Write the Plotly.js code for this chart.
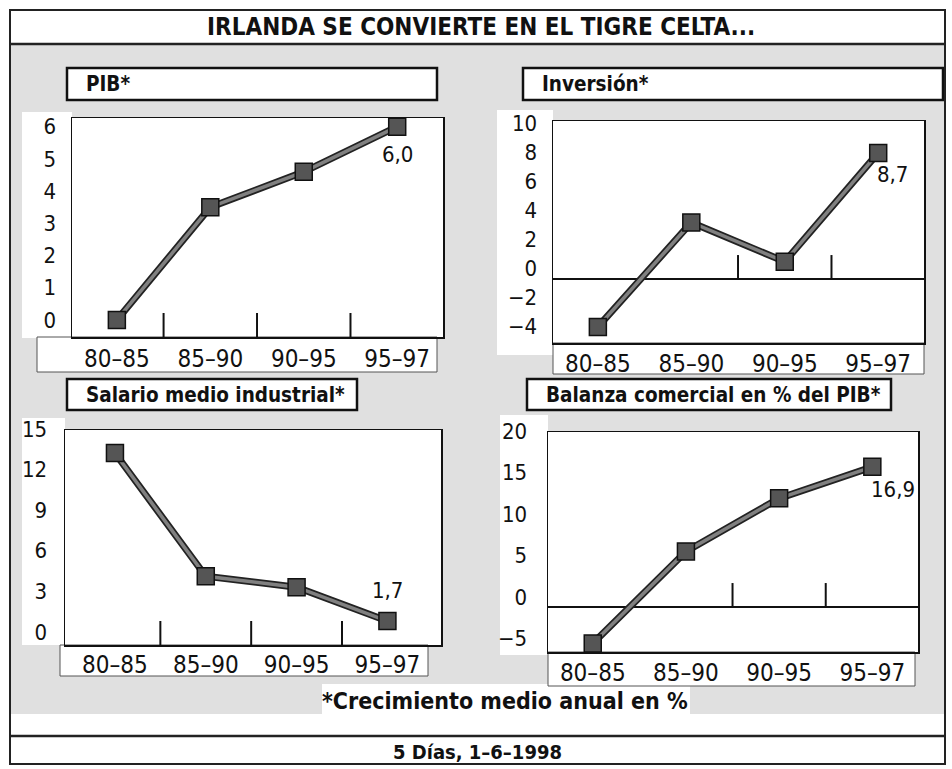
<!DOCTYPE html>
<html><head><meta charset="utf-8">
<script src="https://cdn.plot.ly/plotly-3.0.1.min.js"></script>
<style>html,body{margin:0;padding:0;background:#fff}#chart{width:952px;height:769px}</style>
</head><body><div id="chart"></div>
<script>
// ---- data ----
const periods = ['80–85', '85–90', '90–95', '95–97'];
const pib = [0.0, 3.5, 4.6, 6.0];
const inversion = [-3.3, 3.9, 1.2, 8.7];
const salario = [14.1, 5.0, 4.2, 1.7];
const balanza = [-4.4, 6.7, 13.1, 16.9];
const pibTicks = [0, 1, 2, 3, 4, 5, 6];
const invTicks = [-4, -2, 0, 2, 4, 6, 8, 10];
const salTicks = [0, 3, 6, 9, 12, 15];
const balTicks = [-5, 0, 5, 10, 15, 20];
const panelTitles = ['PIB*', 'Inversión*', 'Salario medio industrial*', 'Balanza comercial en % del PIB*'];
const lastLabels = ['6,0', '8,7', '1,7', '16,9'];
const mainTitle = 'IRLANDA SE CONVIERTE EN EL TIGRE CELTA...';
const noteText = '*Crecimiento medio anual en %';
const sourceText = '5 Días, 1–6–1998';

// ---- layout geometry (pixels) ----
const W = 952, H = 769;
const FONT = '"Liberation Sans Narrow", "DejaVu Sans Condensed", "Arial Narrow", sans-serif';
const px = (x) => x / W, py = (y) => 1 - y / H;

const panels = [
  {vals: pib, ticks: pibTicks, box: [72, 118, 443, 337], xr: [-0.48, 3.49], yr: [-0.53, 6.27], shift: 0,
   zero: false, sep: [0.5, 1.5, 2.5], title: [67, 68, 437, 100], lab: [0, -28],
   col: [22, 112, 72, 338], strip: [37, 337, 437, 372], stand: 10, xstand: 0},
  {vals: inversion, ticks: invTicks, box: [553, 121, 924, 343], xr: [-0.48, 3.49], yr: [-4.41, 10.9], shift: -11,
   zero: true, sep: [1.5, 2.5], title: [523, 68, 943, 100], lab: [14, -22],
   col: [497, 110, 553, 355], strip: [553, 343, 924, 374], stand: 10, xstand: -1},
  {vals: salario, ticks: salTicks, box: [65, 430, 441, 645], xr: [-0.55, 3.59], yr: [-0.07, 15.8], shift: -12,
   zero: false, sep: [0.5, 1.5, 2.5], title: [67, 379, 357, 410], lab: [0, 31],
   col: [22, 418, 65, 645], strip: [60, 645, 428, 676], stand: 12, xstand: -2},
  {vals: balanza, ticks: balTicks, box: [548, 432, 918, 652], xr: [-0.48, 3.49], yr: [-5.42, 21.1], shift: -10,
   zero: true, sep: [1.5, 2.5], title: [527, 379, 891, 410], lab: [21, -23],
   col: [500, 415, 548, 655], strip: [548, 652, 915, 686], stand: 15, xstand: -1}
];

const traces = [];
const layout = {
  width: W, height: H, margin: {l: 0, r: 0, t: 0, b: 0},
  paper_bgcolor: '#ffffff', plot_bgcolor: 'rgba(0,0,0,0)',
  showlegend: false, font: {family: FONT, color: '#111'},
  shapes: [], annotations: []
};

// background halftone
layout.shapes.push({type: 'rect', xref: 'paper', yref: 'paper', x0: px(10), x1: px(945), y0: py(44), y1: py(714),
  fillcolor: '#e0e0e0', line: {width: 0}, layer: 'below'});
layout.shapes.push({type: 'rect', xref: 'paper', yref: 'paper', x0: px(322), x1: px(690), y0: py(684), y1: py(720),
  fillcolor: '#ffffff', line: {width: 0}, layer: 'below'});

panels.forEach((p, i) => {
  const n = i === 0 ? '' : String(i + 1);
  const xa = 'x' + n, ya = 'y' + n;
  const [l, t, r, b] = p.box;
  // white areas
  [p.col, p.box, p.strip].forEach((rc, k) => {
    layout.shapes.push({type: 'rect', xref: 'paper', yref: 'paper', x0: px(rc[0]), x1: px(rc[2]), y0: py(rc[3]), y1: py(rc[1]),
      fillcolor: '#ffffff', line: {width: k === 2 ? 1 : 0, color: '#555'}, layer: 'below'});
  });
  // panel title box
  const tb = p.title;
  layout.shapes.push({type: 'rect', xref: 'paper', yref: 'paper', x0: px(tb[0]), x1: px(tb[2]), y0: py(tb[3]), y1: py(tb[1]),
    fillcolor: '#ffffff', line: {width: 2.5, color: '#111'}, layer: 'below'});
  layout.annotations.push({xref: 'paper', yref: 'paper', x: px(tb[0] + 17), y: py((tb[1] + tb[3]) / 2),
    xanchor: 'left', yanchor: 'middle', showarrow: false, text: panelTitles[i],
    font: {family: FONT, size: 20.5, weight: 'bold', color: '#111'}});

  const pxPerUnit = (b - t) / (p.yr[1] - p.yr[0]);
  layout['xaxis' + n] = {
    domain: [px(l), px(r)], range: p.xr, anchor: ya, tickvals: [0, 1, 2, 3], ticktext: periods,
    ticks: '', showgrid: false, zeroline: false, showline: true, mirror: true, linecolor: '#111', linewidth: 1.5,
    tickfont: {family: FONT, size: 24, color: '#111'}, ticklabelstandoff: p.xstand, fixedrange: true
  };
  layout['yaxis' + n] = {
    domain: [py(b), py(t)], range: p.yr, anchor: xa, tickvals: p.ticks,
    ticktext: p.ticks.map(v => v < 0 ? '−' + Math.abs(v) : String(v)),
    ticks: '', showgrid: false, zeroline: p.zero, zerolinecolor: '#111', zerolinewidth: 1.5,
    showline: true, mirror: true, linecolor: '#111', linewidth: 1.5,
    tickfont: {family: FONT, size: 22, color: '#111'}, ticklabelstandoff: p.stand,
    ticklabelshift: p.shift, fixedrange: true
  };
  // separator ticks between periods
  const base = p.zero ? 0 : p.yr[0];
  p.sep.forEach(s => {
    layout.shapes.push({type: 'line', xref: xa, yref: ya, x0: s, x1: s, y0: base, y1: base + 24 / pxPerUnit,
      line: {color: '#111', width: 2}});
  });

  traces.push({x: [0, 1, 2, 3], y: p.vals, xaxis: xa, yaxis: ya, type: 'scatter', mode: 'lines',
    line: {color: '#222', width: 7}, hoverinfo: 'skip', cliponaxis: false});
  traces.push({x: [0, 1, 2, 3], y: p.vals, xaxis: xa, yaxis: ya, type: 'scatter', mode: 'lines+markers',
    line: {color: '#808080', width: 3.5}, cliponaxis: false,
    marker: {symbol: 'square', size: 17, color: '#555', line: {color: '#111', width: 1.5}}});

  layout.annotations.push({xref: xa, yref: ya, x: 3, y: p.vals[3], xshift: p.lab[0], yshift: p.lab[1],
    showarrow: false, text: lastLabels[i], font: {family: FONT, size: 22, color: '#111'}});
});

// frame, bands
layout.shapes.push({type: 'rect', xref: 'paper', yref: 'paper', x0: px(10), x1: px(945), y0: py(764), y1: py(10),
  line: {width: 2, color: '#222'}, layer: 'above'});
layout.shapes.push({type: 'line', xref: 'paper', yref: 'paper', x0: px(10), x1: px(945), y0: py(44), y1: py(44),
  line: {width: 2.5, color: '#222'}, layer: 'above'});
layout.shapes.push({type: 'line', xref: 'paper', yref: 'paper', x0: px(10), x1: px(945), y0: py(736), y1: py(736),
  line: {width: 2.5, color: '#222'}, layer: 'above'});

layout.annotations.push({xref: 'paper', yref: 'paper', x: px(481), y: py(27), showarrow: false, text: mainTitle,
  xanchor: 'center', yanchor: 'middle', font: {family: FONT, size: 24, weight: 'bold', color: '#111'}});
layout.annotations.push({xref: 'paper', yref: 'paper', x: px(505), y: py(701), showarrow: false, text: noteText,
  xanchor: 'center', yanchor: 'middle', font: {family: FONT, size: 23, weight: 'bold', color: '#111'}});
layout.annotations.push({xref: 'paper', yref: 'paper', x: px(477), y: py(752), showarrow: false, text: sourceText,
  xanchor: 'center', yanchor: 'middle', font: {family: FONT, size: 20, weight: 'bold', color: '#111'}});

Plotly.newPlot('chart', traces, layout, {displayModeBar: false, staticPlot: true});
</script>
</body></html>
